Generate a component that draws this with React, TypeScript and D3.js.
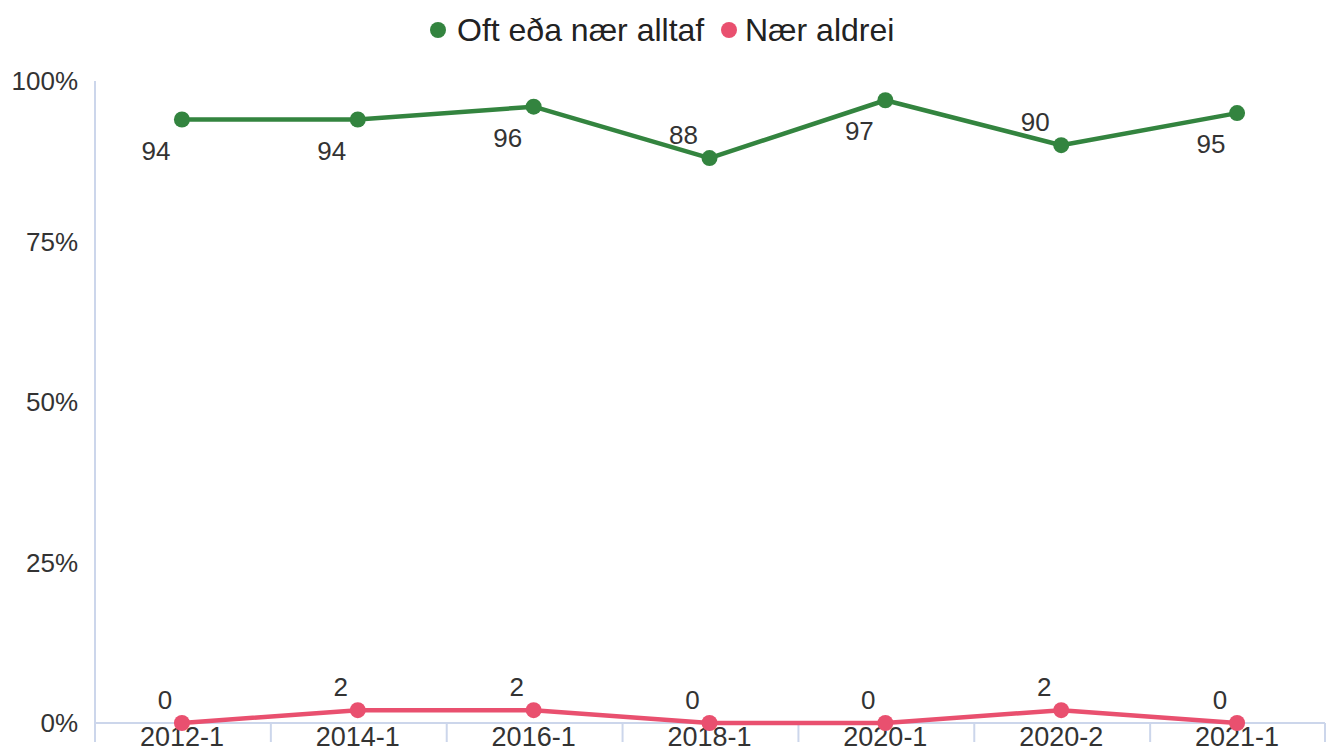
import React from "react";
import * as d3 from "d3";

const categories = ["2012-1", "2014-1", "2016-1", "2018-1", "2020-1", "2020-2", "2021-1"];
const oftValues = [94, 94, 96, 88, 97, 90, 95];
const aldreiValues = [0, 2, 2, 0, 0, 2, 0];
const yTicks = [0, 25, 50, 75, 100];
const seriesNames = ["Oft eða nær alltaf", "Nær aldrei"];

const W = 1326;
const H = 753;
const FONT = "'Liberation Sans', Arial, Helvetica, sans-serif";
const GREEN = "#33843f";
const RED = "#e9506f";
const AXIS = "#ccd6eb";

export default function App() {
  const x = d3.scaleBand<string>().domain(categories).range([94, 1325]);
  const y = d3.scaleLinear().domain([0, 100]).range([723, 81]);
  const cx = (c: string) => (x(c) as number) + x.bandwidth() / 2;
  const line = d3
    .line<number>()
    .x((_, i) => cx(categories[i]))
    .y((d) => y(d));

  const series = [
    { name: seriesNames[0], values: oftValues, color: GREEN, dx: -26 },
    { name: seriesNames[1], values: aldreiValues, color: RED, dx: -17 },
  ];

  const edges = categories.map((c) => x(c) as number).concat([1325 - 1]);

  return (
    <svg
      width={W}
      height={H}
      style={{ position: "absolute", left: 0, top: 0, background: "#fff" }}
      fontFamily={FONT}
    >
      {/* legend */}
      <g>
        <circle cx={438} cy={30} r={8} fill={GREEN} />
        <text x={457} y={41} fontSize={32} fill="#222">
          {seriesNames[0]}
        </text>
        <circle cx={729} cy={30} r={8} fill={RED} />
        <text x={745} y={41} fontSize={32} fill="#222">
          {seriesNames[1]}
        </text>
      </g>

      {/* y axis */}
      <line x1={95} x2={95} y1={y(100)} y2={742} stroke={AXIS} strokeWidth={2} />
      {yTicks.map((t) => (
        <text key={t} x={78} y={y(t) + 9} textAnchor="end" fontSize={26} fill="#333">
          {t}%
        </text>
      ))}

      {/* x axis */}
      <line x1={94} x2={1325} y1={723} y2={723} stroke={AXIS} strokeWidth={2} />
      {edges.map((e, i) => (
        <line key={i} x1={e + 1} x2={e + 1} y1={723} y2={742} stroke={AXIS} strokeWidth={2} />
      ))}
      {categories.map((c) => (
        <text key={c} x={cx(c)} y={746} textAnchor="middle" fontSize={27} fill="#333">
          {c}
        </text>
      ))}

      {/* series */}
      {series.map((s) => (
        <g key={s.name}>
          <path d={line(s.values) || ""} fill="none" stroke={s.color} strokeWidth={4.5} strokeLinejoin="round" />
          {s.values.map((v, i) => (
            <circle key={i} cx={cx(categories[i])} cy={y(v)} r={8} fill={s.color} />
          ))}
          {s.values.map((v, i) => {
            const prev = i > 0 ? s.values[i - 1] : Infinity;
            const next = i < s.values.length - 1 ? s.values[i + 1] : Infinity;
            const isMin = v < prev && v < next;
            const above = s.color === RED || isMin;
            return (
              <text
                key={"l" + i}
                x={cx(categories[i]) + s.dx}
                y={above ? y(v) - 14 : y(v) + 40}
                textAnchor="middle"
                fontSize={26}
                fill="#333"
              >
                {v}
              </text>
            );
          })}
        </g>
      ))}
    </svg>
  );
}
